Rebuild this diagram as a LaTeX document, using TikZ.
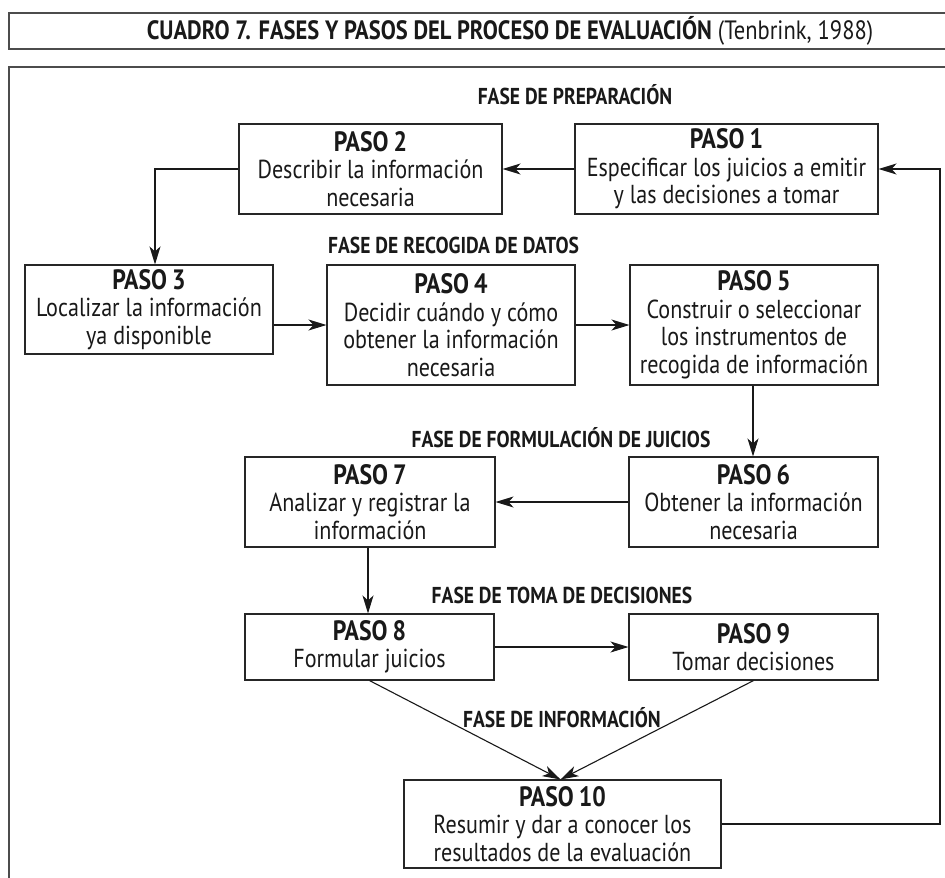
\documentclass[tikz,border=0pt]{standalone}
\usepackage{fontspec}
\setmainfont{PT Sans}[FakeStretch=0.85]
\usetikzlibrary{arrows.meta}
\newcommand{\pasohead}[1]{{\bfseries\fontsize{28}{27.5}\selectfont PASO\hspace{5pt}#1}}
\begin{document}
\begin{tikzpicture}[x=1pt,y=-1pt,
  frame/.style={draw=black!70, line width=1.4pt},
  box/.style={draw=black!85, line width=1.1pt, align=center, inner sep=0pt,
    text=black!90, font=\fontsize{26}{27.5}\selectfont},
  phase/.style={font=\bfseries\fontsize{23}{24}\selectfont, text=black!90, inner sep=0pt},
  conn/.style={-{Stealth[length=18pt,width=11pt,inset=5pt]}, line width=1.1pt, draw=black!90}]
\useasboundingbox (0,0) rectangle (945,878);
\clip (0,0) rectangle (945,878);
\fill[white] (0,0) rectangle (945,878);
\draw[frame] (9,13) rectangle (960,49);
\draw[frame] (9,67) rectangle (960,900);
\node[font=\fontsize{26.5}{28}\selectfont, text=black!90] (title) at (510,31)
  {\textbf{CUADRO 7. FASES Y PASOS DEL PROCESO DE EVALUACIÓN} (Tenbrink, 1988)};

\node[phase] (f1) at (575,95) {FASE DE PREPARACIÓN};
\node[phase, anchor=west] (f2) at (328,245) {FASE DE RECOGIDA DE DATOS};
\node[phase] (f3) at (561,438) {FASE DE FORMULACIÓN DE JUICIOS};
\node[phase] (f4) at (562,595) {FASE DE TOMA DE DECISIONES};
\node[phase] (f5) at (562,718) {FASE DE INFORMACIÓN};

\node[box, minimum width=303pt, minimum height=90pt] (P1) at (726.5,169)
  {\pasohead{1}\\Especificar los juicios a emitir\\y las decisiones a tomar};
\node[box, minimum width=263pt, minimum height=90pt] (P2) at (370.5,169)
  {\pasohead{2}\\Describir la información\\necesaria};
\node[box, minimum width=248pt, minimum height=89pt] (P3) at (149,309.5)
  {\pasohead{3}\\Localizar la información\\ya disponible};
\node[box, minimum width=248pt, minimum height=120pt] (P4) at (451,325)
  {\pasohead{4}\\Decidir cuándo y cómo\\obtener la información\\necesaria};
\node[box, minimum width=248pt, minimum height=120pt] (P5) at (754,325)
  {\pasohead{5}\\Construir o seleccionar\\los instrumentos de\\recogida de información};
\node[box, minimum width=249pt, minimum height=90pt] (P6) at (753.5,502)
  {\pasohead{6}\\Obtener la información\\necesaria};
\node[box, minimum width=250pt, minimum height=90pt] (P7) at (370,502)
  {\pasohead{7}\\Analizar y registrar la\\información};
\node[box, minimum width=249pt, minimum height=66pt] (P8) at (369.5,647)
  {\pasohead{8}\\Formular juicios};
\node[box, minimum width=249pt, minimum height=66pt] (P9) at (753.5,647)
  {\pasohead{9}\\Tomar decisiones};
\node[box, minimum width=317pt, minimum height=88pt] (P10) at (562.5,824)
  {\pasohead{10}\\Resumir y dar a conocer los\\resultados de la evaluación};

\coordinate (c2) at (155,169);
\coordinate (cr1) at (940,824);
\coordinate (cr2) at (940,169);

\draw[conn] (P1.west) -- (P2.east);
\draw[conn] (P2.west) -- (c2) -- (c2 |- P3.north);
\draw[conn] (P3.east |- P4.west) -- (P4.west);
\draw[conn] (P4.east) -- (P5.west);
\draw[conn] (P5.south -| 753,0) -- (P6.north -| 753,0);
\draw[conn] (P6.west) -- (P7.east);
\draw[conn] (P7.south -| 368,0) -- (P8.north -| 368,0);
\draw[conn] (P8.east) -- (P9.west);
\draw[conn] (P8.south) -- ([xshift=-2pt]P10.north);
\draw[conn] (P9.south) -- ([xshift=-2pt]P10.north);
\draw[conn] (P10.east) -- (cr1) -- (cr2) -- (P1.east);
\end{tikzpicture}
\end{document}
